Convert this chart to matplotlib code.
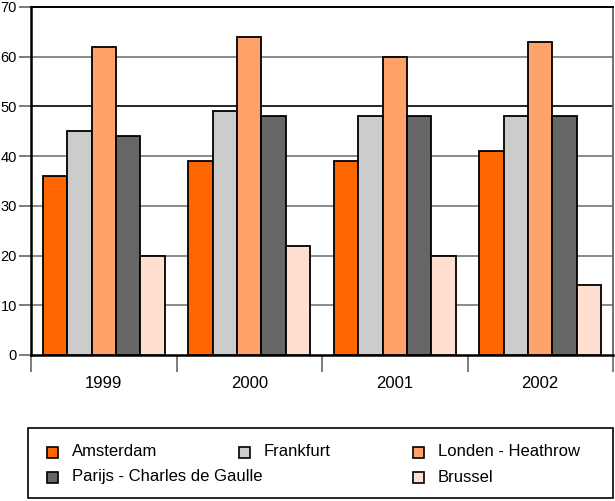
import numpy as np
import matplotlib.pyplot as plt
from matplotlib.patches import Rectangle

plt.rcParams['font.family'] = ['Liberation Sans', 'DejaVu Sans']

# data
years = ['1999', '2000', '2001', '2002']
airports = ['Amsterdam', 'Frankfurt', 'Londen - Heathrow',
            'Parijs - Charles de Gaulle', 'Brussel']
amsterdam = [36, 39, 39, 41]
frankfurt = [45, 49, 48, 48]
londen = [62, 64, 60, 63]
parijs = [44, 48, 48, 48]
brussel = [20, 22, 20, 14]
yticks = [0, 10, 20, 30, 40, 50, 60, 70]

series = [amsterdam, frankfurt, londen, parijs, brussel]
colors = ['#FF6600', '#CCCCCC', '#FFA36B', '#666666', '#FFE0D0']

W, H = 615, 501
fig = plt.figure(figsize=(W / 100, H / 100), dpi=100)
ax = fig.add_axes([31 / W, 1 - 355 / H, 582 / W, 348 / H])

x = np.arange(len(years))
bw = 0.168
for i, vals in enumerate(series):
    ax.bar(x + (i - 2) * bw, vals, bw, color=colors[i], edgecolor='black',
           linewidth=1.3, zorder=3)

ax.set_xlim(-0.5, len(years) - 0.5)
ax.set_ylim(0, 70)

# gridlines
for v in yticks[1:-1]:
    ax.axhline(v, color='black' if v == 50 else '#777777', lw=1.2, zorder=1)

ax.set_yticks(yticks)
ax.tick_params(axis='y', length=9, width=1.2, color='#666666', labelsize=10.5, pad=1)
ax.set_xticks(np.arange(len(years) + 1) - 0.5)
ax.set_xticklabels([])
ax.set_xticks(x, minor=True)
ax.set_xticklabels(years, minor=True, fontsize=12)
ax.tick_params(axis='x', which='major', length=12, width=1.2, color='#666666')
ax.tick_params(axis='x', which='minor', length=0, pad=15)

for s in ['left', 'bottom']:
    ax.spines[s].set_linewidth(1.8)
ax.spines['top'].set_linewidth(1.4)
ax.spines['right'].set_color('#555555')
ax.spines['right'].set_linewidth(1.2)

# legend drawn by hand
fig.patches.append(Rectangle((28 / W, 1 - 498 / H), 585 / W, 70 / H,
                             transform=fig.transFigure, facecolor='white',
                             edgecolor='black', linewidth=1.2))
slots = [(47, 452), (239, 452), (413, 452), (47, 477), (413, 477)]
for (px, py), name, c in zip(slots, airports, colors):
    fig.patches.append(Rectangle((px / W, 1 - (py + 5.5) / H), 11 / W, 11 / H,
                                 transform=fig.transFigure, facecolor=c,
                                 edgecolor='black', linewidth=1.2))
    fig.text((px + 25) / W, 1 - py / H, name, fontsize=12, va='center')

fig.savefig('out.png', dpi=100)
